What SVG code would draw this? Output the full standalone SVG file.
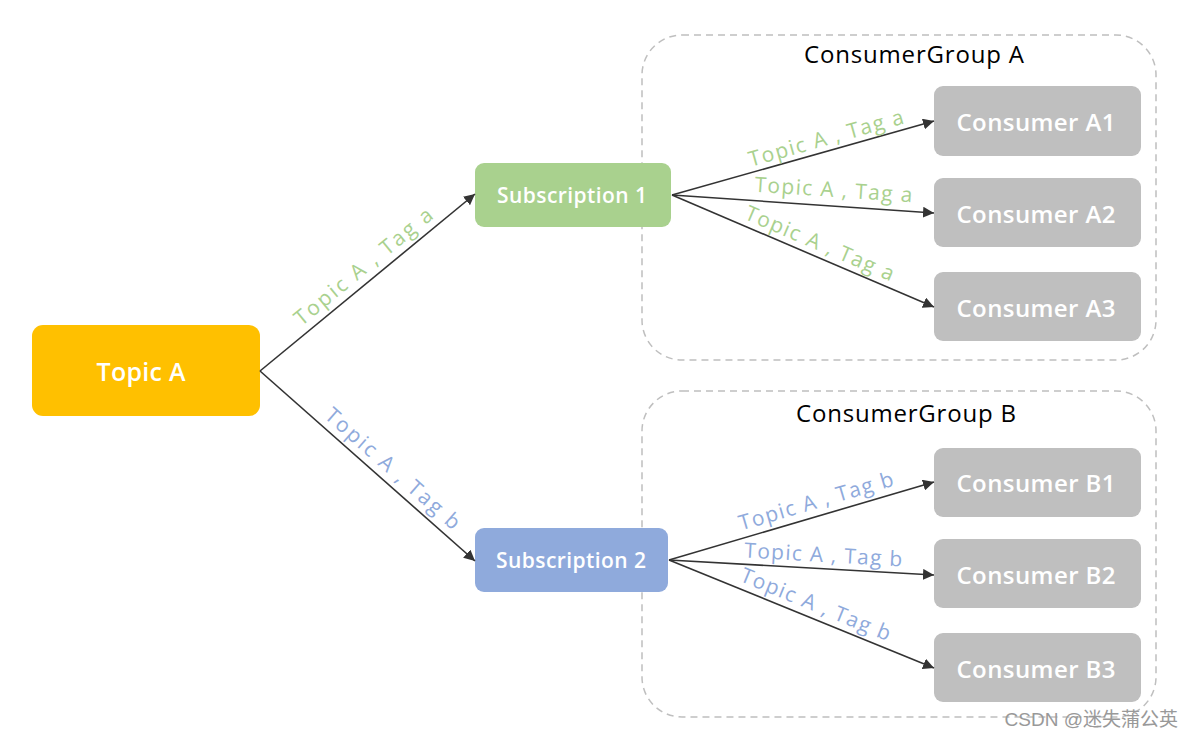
<svg xmlns="http://www.w3.org/2000/svg" width="1193" height="737" viewBox="0 0 1193 737">
<defs>
<marker id="arr" viewBox="0 0 10 10" refX="10" refY="5" markerWidth="11" markerHeight="11" markerUnits="userSpaceOnUse" orient="auto">
<path d="M0,0 L10,5 L0,10 z" fill="#333"/>
</marker>
<style>
.node text{font-family:"Open Sans","Noto Sans",sans-serif;font-weight:600;fill:#fff;text-anchor:middle;dominant-baseline:central}
.grp{fill:none;stroke:#BFBFBF;stroke-width:1.5;stroke-dasharray:7 5}
.gt{font-family:"Open Sans","Noto Sans",sans-serif;font-size:24px;fill:#000;text-anchor:middle}
.edge{stroke:#333;stroke-width:1.6;fill:none;marker-end:url(#arr)}
.la{font-family:"Open Sans","Noto Sans",sans-serif;font-size:21px;text-anchor:middle;fill:#A9D18E}
.lb{font-family:"Open Sans","Noto Sans",sans-serif;font-size:21px;text-anchor:middle;fill:#8FAADC}
.cons rect{fill:#BFBFBF}
.cons text{font-size:24px}
</style>
</defs>
<rect width="1193" height="737" fill="#fff"/>
<g id="groupA"><rect class="grp" x="642" y="35" width="514" height="325" rx="40"/><text class="gt" x="914" y="63" textLength="220">ConsumerGroup A</text></g>
<g id="groupB"><rect class="grp" x="642" y="391" width="514" height="326" rx="40"/><text class="gt" x="906" y="422" textLength="220">ConsumerGroup B</text></g>
<g id="topicA" class="node"><rect x="32" y="325" width="228" height="91" rx="11" fill="#FFC000"/><text x="141" y="371" font-size="25" textLength="89">Topic A</text></g>
<g id="sub1" class="node"><rect x="475" y="163" width="196" height="64" rx="9" fill="#A9D18E"/><text x="572" y="195" font-size="21" textLength="150">Subscription 1</text></g>
<g id="sub2" class="node"><rect x="475" y="528" width="193" height="64" rx="9" fill="#8FAADC"/><text x="571" y="560" font-size="21" textLength="150">Subscription 2</text></g>
<g id="consA1" class="node cons"><rect x="934" y="86" width="207" height="70" rx="9"/><text x="1036" y="121" textLength="159">Consumer A1</text></g>
<g id="consA2" class="node cons"><rect x="934" y="178" width="207" height="69" rx="9"/><text x="1036" y="213" textLength="159">Consumer A2</text></g>
<g id="consA3" class="node cons"><rect x="934" y="272" width="207" height="69" rx="9"/><text x="1036" y="307" textLength="159">Consumer A3</text></g>
<g id="consB1" class="node cons"><rect x="934" y="448" width="207" height="69" rx="9"/><text x="1036" y="482" textLength="159">Consumer B1</text></g>
<g id="consB2" class="node cons"><rect x="934" y="539" width="207" height="69" rx="9"/><text x="1036" y="574" textLength="159">Consumer B2</text></g>
<g id="consB3" class="node cons"><rect x="934" y="633" width="207" height="69" rx="9"/><text x="1036" y="668" textLength="159">Consumer B3</text></g>
<g id="connectors">
<line class="edge" x1="260" y1="371" x2="475" y2="194"/>
<line class="edge" x1="260" y1="371" x2="475" y2="561"/>
<line class="edge" x1="672" y1="195" x2="934" y2="121"/>
<line class="edge" x1="672" y1="195" x2="934" y2="213"/>
<line class="edge" x1="672" y1="195" x2="934" y2="307"/>
<line class="edge" x1="669" y1="560" x2="934" y2="482"/>
<line class="edge" x1="669" y1="560" x2="934" y2="575"/>
<line class="edge" x1="669" y1="560" x2="934" y2="668"/>
</g>
<g id="labels">
<text class="la" transform="translate(368,272) rotate(-39.3)" textLength="172">Topic A , Tag a</text>
<text class="lb" transform="translate(388,474) rotate(41.3)" textLength="172">Topic A , Tag b</text>
<text class="la" transform="translate(828,145) rotate(-15.8)" textLength="160">Topic A , Tag a</text>
<text class="la" transform="translate(833,197) rotate(3.9)" textLength="158">Topic A , Tag a</text>
<text class="la" transform="translate(817,250) rotate(23.1)" textLength="160">Topic A , Tag a</text>
<text class="lb" transform="translate(818,508) rotate(-16.4)" textLength="160">Topic A , Tag b</text>
<text class="lb" transform="translate(823,562) rotate(3.2)" textLength="158">Topic A , Tag b</text>
<text class="lb" transform="translate(813,611) rotate(22.2)" textLength="160">Topic A , Tag b</text>
</g>
<text x="1178" y="726" font-family="'Liberation Sans','Noto Sans CJK SC',sans-serif" font-size="19" fill="#999" text-anchor="end">CSDN @迷失蒲公英</text>
</svg>
